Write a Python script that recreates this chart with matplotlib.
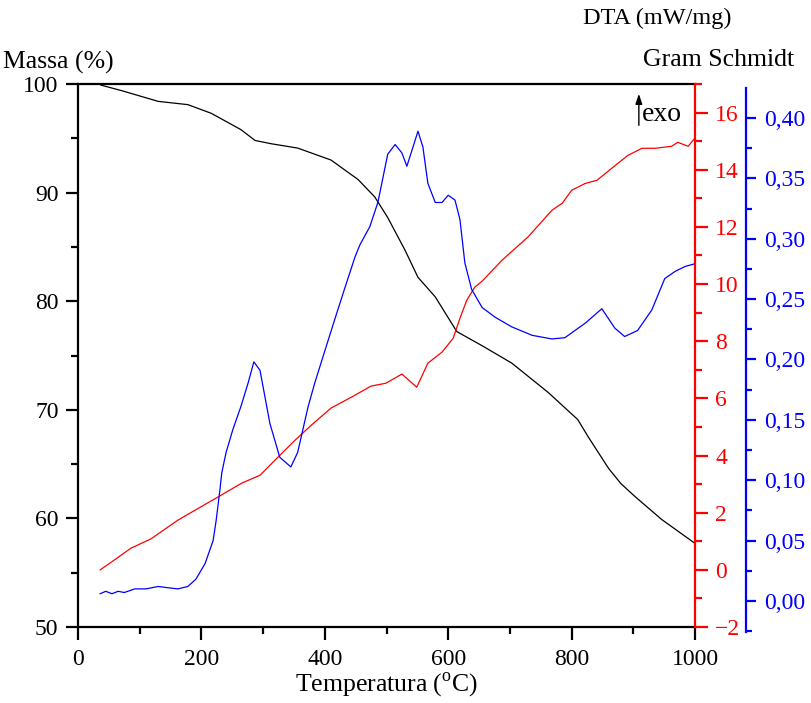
import matplotlib
matplotlib.use("Agg")
import matplotlib.pyplot as plt
from matplotlib.ticker import MultipleLocator, FuncFormatter

plt.rcParams['font.family'] = ['Liberation Serif', 'DejaVu Serif']
plt.rcParams['mathtext.fontset'] = 'custom'
plt.rcParams['mathtext.rm'] = 'Liberation Serif'

# --- data ---
mass_T = [37, 70, 130, 178, 216, 264, 287, 313, 356, 410, 454, 481, 502, 530, 551,
          579, 614, 655, 703, 762, 810, 827, 860, 880, 903, 946, 1000]
mass_val = [99.9, 99.4, 98.4, 98.1, 97.3, 95.8, 94.8, 94.5, 94.1, 93.0, 91.2, 89.6,
            87.7, 84.7, 82.2, 80.4, 77.2, 75.9, 74.3, 71.6, 69.1, 67.5, 64.6, 63.2,
            62.0, 59.9, 57.7]

dta_T = [36, 54, 86, 118, 162, 190, 227, 265, 295, 324, 352, 378, 410, 443, 475, 499,
         525, 549, 567, 590, 608, 619, 630, 643, 655, 687, 729, 768, 785, 800, 822,
         841, 865, 891, 914, 935, 962, 972, 989, 998]
dta_val = [0.0, 0.27, 0.76, 1.08, 1.74, 2.09, 2.55, 3.03, 3.31, 3.94, 4.54, 5.06, 5.66,
           6.04, 6.43, 6.53, 6.85, 6.39, 7.23, 7.62, 8.1, 8.8, 9.43, 9.89, 10.1, 10.83,
           11.64, 12.58, 12.83, 13.28, 13.52, 13.63, 14.05, 14.5, 14.75, 14.75, 14.82,
           14.96, 14.82, 15.06]

gs_T = [36, 45, 55, 65, 75, 92, 110, 130, 145, 162, 178, 191, 206, 219, 224, 230, 233,
        240, 251, 264, 276, 285, 295, 311, 327, 345, 356, 373, 384, 400, 416, 433, 449,
        457, 473, 486, 502, 514, 525, 533, 543, 551, 559, 567, 579, 590, 600, 611, 619,
        627, 638, 655, 676, 703, 736, 768, 789, 800, 822, 849, 870, 886, 907, 930, 951,
        968, 984, 998]
gs_val = [0.006, 0.008, 0.006, 0.008, 0.007, 0.010, 0.010, 0.012, 0.011, 0.010, 0.012,
          0.018, 0.031, 0.050, 0.067, 0.092, 0.106, 0.123, 0.142, 0.161, 0.181, 0.198,
          0.191, 0.147, 0.119, 0.111, 0.123, 0.161, 0.181, 0.207, 0.233, 0.260, 0.285,
          0.295, 0.310, 0.330, 0.370, 0.378, 0.371, 0.360, 0.376, 0.389, 0.376, 0.346,
          0.330, 0.330, 0.336, 0.332, 0.316, 0.280, 0.258, 0.243, 0.235, 0.227, 0.220,
          0.217, 0.218, 0.222, 0.230, 0.242, 0.226, 0.219, 0.224, 0.241, 0.267, 0.273,
          0.277, 0.279]

x_ticks = [0, 200, 400, 600, 800, 1000]

W, H = 811, 703
fig = plt.figure(figsize=(W / 100, H / 100), dpi=100)

def rect(x0, y0, x1, y1):
    return [x0 / W, 1 - y1 / H, (x1 - x0) / W, (y1 - y0) / H]

ax = fig.add_axes(rect(78, 84, 695, 627))
ax2 = ax.twinx()
ax3 = fig.add_axes(rect(78, 88, 695, 632))
ax3.patch.set_alpha(0)

fs = 17
tfs = 18.5
lw_sp = 1.6

# mass axis
ax.plot(mass_T, mass_val, color='black', lw=0.9)
ax.set_xlim(0, 1000)
ax.set_ylim(50, 100)
ax.set_xticks(x_ticks)
ax.xaxis.set_minor_locator(MultipleLocator(100))
ax.yaxis.set_major_locator(MultipleLocator(10))
ax.yaxis.set_minor_locator(MultipleLocator(5))
ax.tick_params(which='major', direction='out', length=9, width=1.6, labelsize=fs)
ax.tick_params(which='minor', direction='out', length=5, width=1.6)
ax.tick_params(axis='x', which='major', pad=7)
ax.tick_params(axis='y', which='major', pad=5)
ax.tick_params(axis='x', top=False, which='both')
for s in ['left', 'bottom', 'top']:
    ax.spines[s].set_linewidth(lw_sp)
ax.spines['right'].set_visible(False)
ax.set_xlabel(r'Temperatura ($^{\rm o}$C)', fontsize=tfs, labelpad=0)

# DTA axis
ax2.plot(dta_T, dta_val, color='red', lw=0.9)
ax2.set_ylim(-2, 17)
ax2.yaxis.set_major_locator(MultipleLocator(2))
ax2.yaxis.set_minor_locator(MultipleLocator(1))
ax2.tick_params(axis='y', which='major', direction='out', length=9.5, width=1.6,
                colors='red', labelsize=fs, pad=5)
ax2.tick_params(axis='y', which='minor', direction='out', length=5, width=1.6, colors='red')
ax2.spines['right'].set_color('red')
ax2.spines['right'].set_linewidth(lw_sp)
for s in ['left', 'bottom', 'top']:
    ax2.spines[s].set_visible(False)

# Gram Schmidt axis
ax3.plot(gs_T, gs_val, color='blue', lw=0.9)
ax3.set_xlim(0, 1000)
ax3.set_ylim(-0.0257, 0.4248)
ax3.xaxis.set_visible(False)
ax3.yaxis.tick_right()
ax3.yaxis.set_major_locator(MultipleLocator(0.05))
ax3.yaxis.set_minor_locator(MultipleLocator(0.025))
ax3.yaxis.set_major_formatter(FuncFormatter(lambda v, p: f"{v:.2f}".replace('.', ',')))
ax3.tick_params(axis='y', which='major', direction='out', length=7.5, width=1.6,
                colors='blue', labelsize=fs, pad=5.5)
ax3.tick_params(axis='y', which='minor', direction='out', length=4, width=1.6, colors='blue')
for s in ['left', 'bottom', 'top']:
    ax3.spines[s].set_visible(False)
ax3.spines['right'].set_position(('outward', 51 * 72 / 100))
ax3.spines['right'].set_color('blue')
ax3.spines['right'].set_linewidth(lw_sp)

# axis titles
fig.text(3 / W, 1 - 62 / H, 'Massa (%)', fontsize=tfs, va='center', ha='left')
fig.text(583 / W, 1 - 18 / H, 'DTA (mW/mg)', fontsize=tfs - 1, va='center', ha='left')
fig.text(643 / W, 1 - 60 / H, 'Gram Schmidt', fontsize=tfs, va='center', ha='left')

# exo marker
ax.annotate('', xy=(909, 99.1), xytext=(909, 96.2),
            arrowprops=dict(arrowstyle='-|>,head_length=0.6,head_width=0.2',
                            color='black', lw=1.0, shrinkA=0, shrinkB=0))
ax.text(914, 97.2, 'exo', fontsize=20, va='center', ha='left')

fig.savefig('out.png', dpi=100)
